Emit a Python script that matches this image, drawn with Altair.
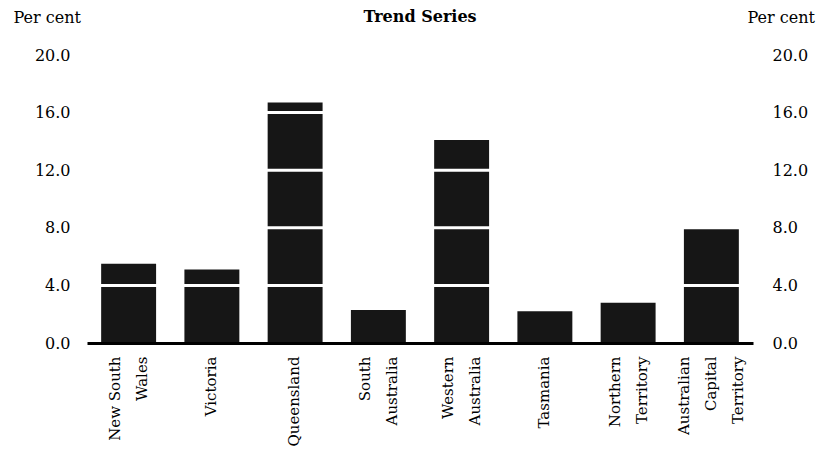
import altair as alt
import pandas as pd

# Data
categories = [
    "New South|Wales",
    "Victoria",
    "Queensland",
    "South|Australia",
    "Western|Australia",
    "Tasmania",
    "Northern|Territory",
    "Australian|Capital|Territory",
]
values = [5.5, 5.1, 16.7, 2.3, 14.1, 2.2, 2.8, 8.0]
y_ticks = [0, 4, 8, 12, 16, 20]
grid_values = [4, 8, 12, 16]

df = pd.DataFrame({"state": categories, "value": values})
grid_df = pd.DataFrame({"g": grid_values})

FONT = "DejaVu Serif"
yscale = alt.Scale(domain=[0, 20], nice=False, zero=True)

# centre multi-line (rotated) labels on their bar
label_offset = {
    "condition": [
        {"test": "length(split(datum.value, '|')) == 3", "value": -27},
        {"test": "length(split(datum.value, '|')) == 2", "value": -13.5},
    ],
    "value": -1,
}

x_enc = alt.X(
    "state:N",
    sort=categories,
    scale=alt.Scale(paddingInner=0.34, paddingOuter=0.17),
    axis=alt.Axis(
        title=None,
        labelExpr="split(datum.label, '|')",
        labelAngle=270,
        labelAlign="right",
        labelBaseline="middle",
        labelPadding=13,
        labelLineHeight=27,
        labelOffset=label_offset,
        labelFont=FONT,
        labelFontSize=15,
        labelColor="black",
        ticks=False,
        grid=False,
        domainColor="black",
        domainWidth=3,
        zindex=1,
    ),
)

y_left = alt.Y(
    "value:Q",
    scale=yscale,
    axis=alt.Axis(
        orient="left",
        values=y_ticks,
        format=".1f",
        grid=False,
        domain=False,
        ticks=False,
        tickSize=0,
        labelPadding=17,
        labelFont=FONT,
        labelFontSize=16,
        labelColor="black",
        title="Per cent",
        titleAngle=0,
        titleAlign="left",
        titleBaseline="middle",
        titleX=-74,
        titleY=-38,
        titleFont=FONT,
        titleFontSize=16,
        titleFontWeight="normal",
        titleColor="black",
    ),
)

y_right = alt.Y(
    "g:Q",
    scale=yscale,
    axis=alt.Axis(
        orient="right",
        values=y_ticks,
        format=".1f",
        grid=False,
        domain=False,
        ticks=False,
        tickSize=0,
        labelPadding=19,
        labelFont=FONT,
        labelFontSize=16,
        labelColor="black",
        title="Per cent",
        titleAngle=0,
        titleAlign="left",
        titleBaseline="middle",
        titleX=-6,
        titleY=-38,
        titleFont=FONT,
        titleFontSize=16,
        titleFontWeight="normal",
        titleColor="black",
    ),
)

bars = alt.Chart(df).mark_bar(color="#161616").encode(x=x_enc, y=y_left)
grid = alt.Chart(grid_df).mark_rule(color="white", strokeWidth=3).encode(y=y_right)

chart = (
    alt.layer(bars, grid)
    .resolve_axis(y="independent")
    .properties(
        width=666,
        height=288,
        padding={"left": 79, "top": 47, "right": 66, "bottom": 105},
        autosize=alt.AutoSizeParams(type="none"),
        title=alt.TitleParams(
            "Trend Series",
            font=FONT,
            fontSize=16,
            fontWeight="bold",
            anchor="middle",
            frame="group",
            offset=0,
            dy=16,
            color="black",
        ),
    )
    .configure_view(stroke=None)
)

chart.save("out.html", embed_options={"renderer": "svg", "actions": False})
